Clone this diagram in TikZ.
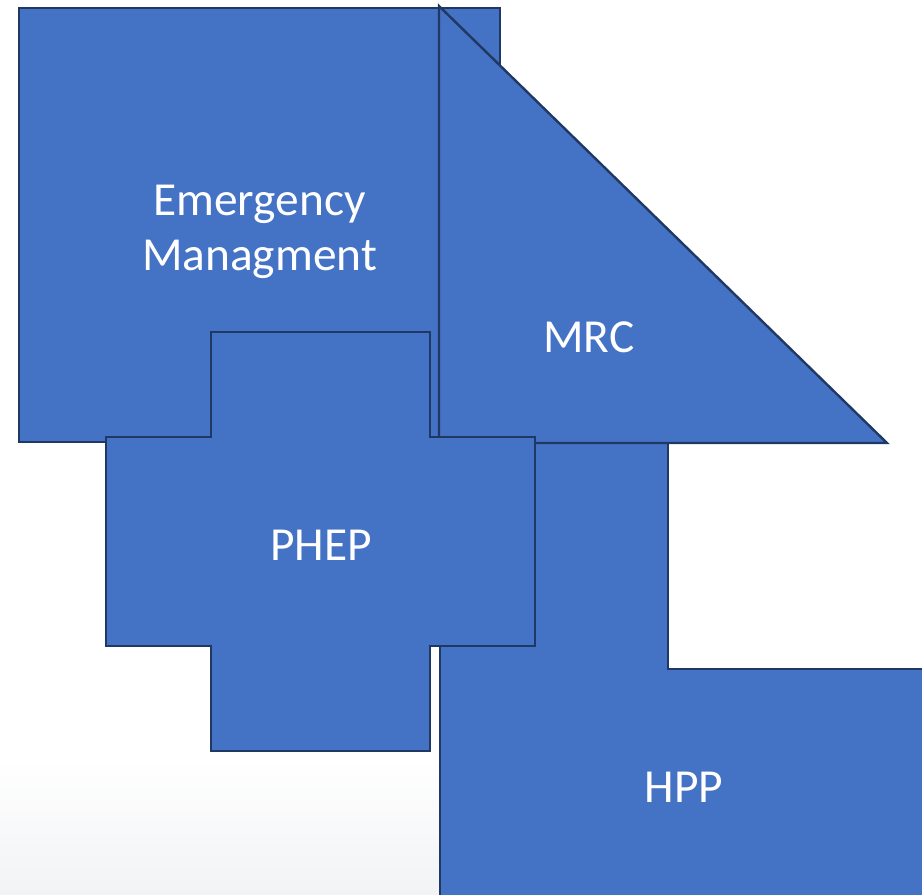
\documentclass[tikz,border=0pt]{standalone}
\usepackage{fontspec}
\setmainfont{Carlito}
\definecolor{blockfill}{RGB}{68, 114, 196}
\definecolor{blockline}{RGB}{32, 56, 100}
\definecolor{fadegray}{RGB}{242, 243, 245}

\begin{document}
\begin{tikzpicture}[x=0.5pt, y=-0.5pt, line width=1.2pt,
  blockshape/.style={draw=blockline, fill=blockfill},
  blocktext/.style={text=white, font=\fontsize{23.7}{27.5}\selectfont, align=center}]
  \useasboundingbox (0, 0) rectangle (922, 895);
  \shade[top color=white, bottom color=fadegray] (0, 760) rectangle (922, 895);

  % emergency management square
  \coordinate (E1) at (19, 8);
  \coordinate (E2) at (500, 442);
  \draw[blockshape] (E1) rectangle (E2);
  \node[blocktext] (emtext) at (259.5, 232) {Emergency\\Managment};

  % HPP corner
  \coordinate (H1) at (440, 443);
  \coordinate (H2) at (668, 443);
  \coordinate (H3) at (668, 669);
  \coordinate (H4) at (930, 669);
  \coordinate (H5) at (930, 905);
  \coordinate (H6) at (440, 905);
  \draw[blockshape] (H1) -- (H2) -- (H3) -- (H4) -- (H5) -- (H6) -- cycle;
  \node[blocktext] (hpptext) at (684, 787) {HPP};

  % MRC triangle
  \coordinate (M1) at (439, 6);
  \coordinate (M2) at (887, 443);
  \coordinate (M3) at (439, 443);
  \draw[blockshape] (M1) -- (M2) -- (M3) -- cycle;
  \node[blocktext] (mrctext) at (589, 337) {MRC};

  % PHEP cross
  \coordinate (P1) at (211, 332);
  \coordinate (P2) at (430, 332);
  \coordinate (P3) at (430, 437);
  \coordinate (P4) at (535, 437);
  \coordinate (P5) at (535, 646);
  \coordinate (P6) at (430, 646);
  \coordinate (P7) at (430, 751);
  \coordinate (P8) at (211, 751);
  \coordinate (P9) at (211, 646);
  \coordinate (P10) at (106, 646);
  \coordinate (P11) at (106, 437);
  \coordinate (P12) at (211, 437);
  \draw[blockshape] (P1) -- (P2) -- (P3) -- (P4) -- (P5) -- (P6) -- (P7)
       -- (P8) -- (P9) -- (P10) -- (P11) -- (P12) -- cycle;
  \node[blocktext] (pheptext) at (321, 545) {PHEP};
\end{tikzpicture}
\end{document}
